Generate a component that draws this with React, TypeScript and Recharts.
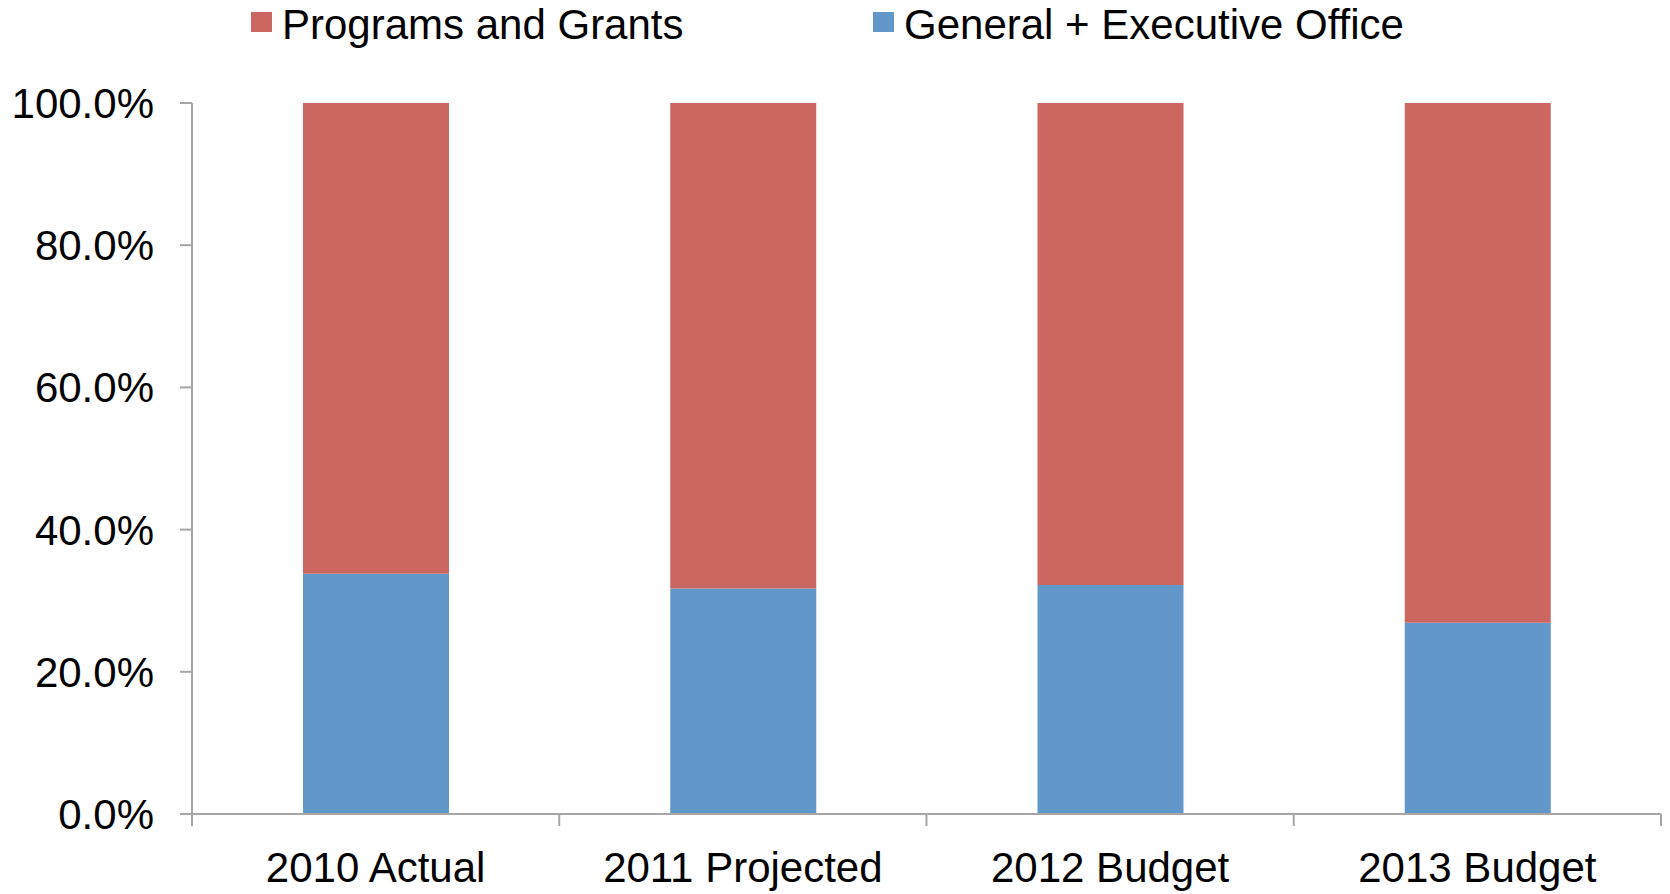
import { Bar, BarChart, XAxis, YAxis } from "recharts";

const categories = ["2010 Actual", "2011 Projected", "2012 Budget", "2013 Budget"];
const generalExec = [33.8, 31.7, 32.2, 26.9];
const programsGrants = [66.2, 68.3, 67.8, 73.1];
const yTicks = [0, 20, 40, 60, 80, 100];

const series = [
  { key: "programs", name: "Programs and Grants", color: "#cc6660" },
  { key: "general", name: "General + Executive Office", color: "#6297c9" },
];

const data = categories.map((name, i) => ({
  name,
  general: generalExec[i],
  programs: programsGrants[i],
}));

const FONT = "'Liberation Sans', Arial, sans-serif";
const AXIS = "#a6a6a6";
const LABEL_GAP = 38;
const TICK_LEN = 12;

// category label plus a tick mark at the left edge of each band (and the right edge of the last)
const CategoryTick = (props: any) => {
  const { x, y, payload, index, visibleTicksCount } = props;
  const half = payload.offset || 0;
  const axisY = y - LABEL_GAP;
  return (
    <g>
      <line
        x1={x - half}
        x2={x - half}
        y1={axisY}
        y2={axisY + TICK_LEN}
        stroke={AXIS}
        strokeWidth={2}
      />
      {index === visibleTicksCount - 1 && (
        <line
          x1={x + half}
          x2={x + half}
          y1={axisY}
          y2={axisY + TICK_LEN}
          stroke={AXIS}
          strokeWidth={2}
        />
      )}
      <text
        x={x}
        y={y}
        dy="0.71em"
        textAnchor="middle"
        fill="#000"
        fontSize={42}
        fontFamily={FONT}
      >
        {payload.value}
      </text>
    </g>
  );
};

export default function App() {
  return (
    <div
      style={{
        position: "absolute",
        top: 0,
        left: 0,
        width: 1670,
        height: 894,
        overflow: "hidden",
        background: "#fff",
        fontFamily: FONT,
      }}
    >
      <div style={{ position: "absolute", top: 0, left: 0, height: 50 }}>
        {series.map((s, i) => (
          <div
            key={s.key}
            style={{
              position: "absolute",
              left: i === 0 ? 251 : 873,
              top: 1,
              display: "flex",
              alignItems: "center",
              whiteSpace: "nowrap",
              fontSize: 42,
              color: "#000",
            }}
          >
            <span
              style={{
                display: "inline-block",
                width: 21,
                height: 20,
                background: s.color,
                marginRight: 10,
                marginTop: -6,
              }}
            />
            {s.name}
          </div>
        ))}
      </div>
      <BarChart
        width={1670}
        height={894}
        data={data}
        margin={{ top: 103, right: 9, bottom: 0, left: 0 }}
        barSize={146}
      >
        <XAxis
          dataKey="name"
          height={80}
          axisLine={{ stroke: AXIS, strokeWidth: 2 }}
          tickLine={false}
          tickSize={0}
          tickMargin={LABEL_GAP}
          tick={<CategoryTick />}
          interval={0}
        />
        <YAxis
          width={192}
          domain={[0, 100]}
          ticks={yTicks}
          allowDataOverflow
          axisLine={{ stroke: AXIS, strokeWidth: 2 }}
          tickLine={{ stroke: AXIS, strokeWidth: 2 }}
          tickSize={12}
          tickMargin={26}
          tickFormatter={(v: number) => `${v.toFixed(1)}%`}
          tick={{ fill: "#000", fontSize: 42, fontFamily: FONT }}
        />
        <Bar dataKey="general" stackId="a" fill="#6297c9" isAnimationActive={false} />
        <Bar dataKey="programs" stackId="a" fill="#cc6660" isAnimationActive={false} />
      </BarChart>
    </div>
  );
}
